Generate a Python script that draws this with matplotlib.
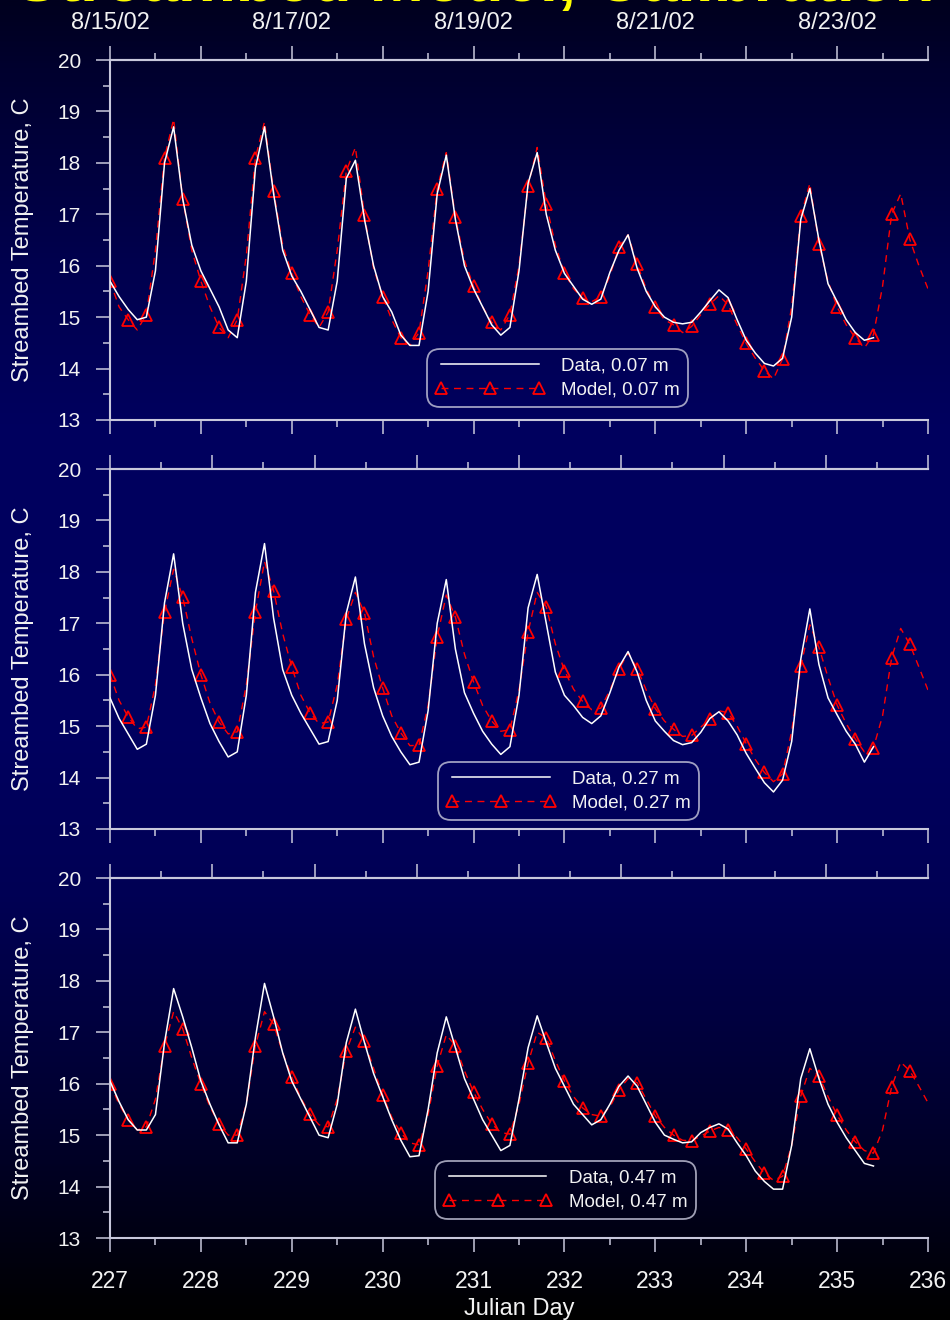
import numpy as np
import matplotlib
matplotlib.use("Agg")
import matplotlib.pyplot as plt
from matplotlib.colors import LinearSegmentedColormap
from matplotlib.lines import Line2D
from matplotlib.ticker import MultipleLocator, FixedLocator, FuncFormatter, NullFormatter

plt.rcParams['font.family'] = ['Liberation Sans', 'DejaVu Sans']

# ---------------------------------------------------------------- data
title = "Streambed Model, Calibration"
depths = ["0.07 m", "0.27 m", "0.47 m"]

day_start = 227.0
data_step = 0.1      # measured series, days
model_step = 0.1     # simulated series, days

date_days = [227, 229, 231, 233, 235]
date_labels = ["8/15/02", "8/17/02", "8/19/02", "8/21/02", "8/23/02"]

data_007 = [
    15.7, 15.4, 15.15, 14.95, 15.0, 15.9, 18.0, 18.7, 17.3, 16.4,
    15.9, 15.55, 15.2, 14.75, 14.6, 15.7, 17.9, 18.7, 17.4, 16.3,
    15.8, 15.5, 15.15, 14.8, 14.75, 15.7, 17.7, 18.05, 16.9, 16.0,
    15.4, 15.1, 14.65, 14.45, 14.45, 15.5, 17.4, 18.15, 16.9, 16.0,
    15.55, 15.2, 14.85, 14.65, 14.8, 15.9, 17.6, 18.2, 17.0, 16.3,
    15.85, 15.6, 15.35, 15.25, 15.35, 15.87, 16.3, 16.6, 15.95, 15.5,
    15.2, 15.0, 14.9, 14.87, 14.9, 15.1, 15.32, 15.53, 15.38, 14.95,
    14.55, 14.3, 14.1, 14.05, 14.2, 15.0, 16.9, 17.5, 16.5, 15.65,
    15.3, 14.95, 14.7, 14.55, 14.6,
]
model_007 = [
    15.7, 15.2, 14.95, 14.75, 15.05, 16.3, 18.1, 18.85, 17.3, 16.3,
    15.7, 15.2, 14.8, 14.6, 14.95, 16.2, 18.1, 18.8, 17.45, 16.4,
    15.85, 15.4, 15.05, 14.8, 15.1, 16.3, 17.84, 18.3, 16.98, 15.95,
    15.4, 14.95, 14.6, 14.45, 14.7, 15.9, 17.5, 18.2, 16.95, 16.1,
    15.6, 15.2, 14.9, 14.75, 15.05, 16.0, 17.55, 18.3, 17.2, 16.4,
    15.86, 15.55, 15.37, 15.3, 15.4, 15.8, 16.37, 16.6, 16.03, 15.55,
    15.19, 14.95, 14.85, 14.7, 14.82, 15.05, 15.25, 15.42, 15.24, 14.85,
    14.49, 14.2, 13.96, 13.8, 14.19, 15.2, 16.96, 17.6, 16.42, 15.7,
    15.2, 14.85, 14.6, 14.4, 14.66, 15.6, 17.0, 17.4, 16.51, 16.0,
    15.55,
]

data_027 = [
    15.55, 15.15, 14.85, 14.55, 14.65, 15.6, 17.4, 18.35, 17.0, 16.1,
    15.55, 15.05, 14.7, 14.4, 14.5, 15.6, 17.6, 18.55, 17.1, 16.1,
    15.6, 15.25, 14.95, 14.65, 14.7, 15.5, 17.2, 17.9, 16.6, 15.75,
    15.2, 14.8, 14.5, 14.25, 14.3, 15.3, 17.0, 17.85, 16.5, 15.65,
    15.25, 14.9, 14.65, 14.45, 14.6, 15.6, 17.3, 17.95, 17.0, 16.05,
    15.6, 15.4, 15.17, 15.05, 15.2, 15.65, 16.15, 16.45, 16.05, 15.5,
    15.1, 14.9, 14.72, 14.64, 14.68, 14.88, 15.15, 15.28, 15.1, 14.83,
    14.47, 14.18, 13.9, 13.72, 13.95, 14.7, 16.3, 17.28, 16.2, 15.55,
    15.22, 14.9, 14.65, 14.3, 14.6,
]
model_027 = [
    16.0, 15.5, 15.18, 14.95, 14.98, 15.8, 17.22, 18.05, 17.51, 16.7,
    16.0, 15.45, 15.08, 14.85, 14.89, 15.8, 17.22, 18.2, 17.63, 16.8,
    16.15, 15.6, 15.26, 15.05, 15.08, 15.8, 17.08, 17.6, 17.2, 16.35,
    15.74, 15.2, 14.87, 14.62, 14.63, 15.4, 16.74, 17.55, 17.12, 16.4,
    15.86, 15.4, 15.1, 14.9, 14.93, 15.7, 16.83, 17.6, 17.32, 16.6,
    16.08, 15.72, 15.48, 15.32, 15.35, 15.7, 16.11, 16.42, 16.12, 15.7,
    15.34, 15.1, 14.94, 14.8, 14.82, 14.98, 15.14, 15.3, 15.26, 15.0,
    14.66, 14.35, 14.1, 13.92, 14.07, 14.9, 16.16, 16.97, 16.53, 15.95,
    15.41, 15.05, 14.75, 14.5, 14.58, 15.2, 16.33, 16.9, 16.59, 16.15,
    15.7,
]

data_047 = [
    16.05, 15.65, 15.3, 15.1, 15.1, 15.4, 16.8, 17.85, 17.3, 16.7,
    16.05, 15.6, 15.2, 14.85, 14.85, 15.6, 16.9, 17.95, 17.3, 16.6,
    16.05, 15.7, 15.35, 15.0, 14.95, 15.6, 16.8, 17.45, 16.8, 16.2,
    15.75, 15.3, 14.9, 14.58, 14.6, 15.5, 16.6, 17.3, 16.7, 16.1,
    15.7, 15.3, 15.0, 14.7, 14.8, 15.7, 16.7, 17.32, 16.8, 16.3,
    15.95, 15.6, 15.4, 15.2, 15.3, 15.6, 15.95, 16.15, 15.95, 15.6,
    15.25, 15.0, 14.92, 14.85, 14.87, 15.05, 15.15, 15.22, 15.12, 14.85,
    14.6, 14.3, 14.1, 13.95, 13.95, 14.8, 16.1, 16.68, 16.1, 15.6,
    15.25, 14.95, 14.7, 14.45, 14.4,
]
model_047 = [
    16.0, 15.6, 15.3, 15.1, 15.16, 15.7, 16.74, 17.4, 17.07, 16.5,
    16.0, 15.55, 15.22, 15.0, 15.0, 15.6, 16.74, 17.4, 17.16, 16.6,
    16.13, 15.72, 15.41, 15.2, 15.16, 15.7, 16.64, 17.1, 16.83, 16.3,
    15.78, 15.35, 15.04, 14.85, 14.81, 15.4, 16.35, 16.95, 16.74, 16.25,
    15.84, 15.5, 15.22, 15.05, 15.02, 15.6, 16.4, 17.0, 16.89, 16.45,
    16.05, 15.75, 15.53, 15.4, 15.37, 15.55, 15.88, 16.1, 16.02, 15.7,
    15.37, 15.15, 15.0, 14.9, 14.89, 14.98, 15.08, 15.15, 15.1, 14.95,
    14.73, 14.48, 14.26, 14.12, 14.2, 14.8, 15.76, 16.3, 16.15, 15.75,
    15.39, 15.1, 14.87, 14.7, 14.65, 15.1, 15.94, 16.42, 16.25, 15.95,
    15.63,
]

series = [(data_007, model_007), (data_027, model_027), (data_047, model_047)]

# ---------------------------------------------------------------- style
W, H, DPI = 950, 1320, 100
axis_col = "#c8c8dc"
text_col = "#f2f2f2"
data_col = "#ffffff"
model_col = "#ff0000"
dash = (0, (5, 4))

fig = plt.figure(figsize=(W / DPI, H / DPI), dpi=DPI)

# vertical backdrop: dark navy at top, brighter navy in the middle, black at the bottom
bg = fig.add_axes([0, 0, 1, 1], zorder=-10)
bg.axis("off")
stops = [(0.0, "#00001e"), (0.05, "#00002e"), (0.2, "#00004e"),
         (0.32, "#00005e"), (0.55, "#000060"), (0.68, "#000054"),
         (0.85, "#00002e"), (1.0, "#000000")]
cmap = LinearSegmentedColormap.from_list("backdrop", stops)
bg.imshow(np.linspace(0, 1, 512).reshape(-1, 1), aspect="auto", cmap=cmap,
          extent=[0, 1, 0, 1], origin="upper")
bg.set_xlim(0, 1)
bg.set_ylim(0, 1)

# banner title, mostly above the top edge of the page
fig.text(0.5, 1 - 1 / H, title, color="#ffff00", fontsize=47, fontweight="bold",
         ha="center", va="baseline")

left = 110 / W
width = 818 / W
panel_tops = [60, 469, 878]
panel_h = 360
legend_anchor = [(0.3875, 0.036), (0.401, 0.025), (0.397, 0.053)]

for i, ((dvals, mvals), depth) in enumerate(zip(series, depths)):
    top_px = panel_tops[i]
    ax = fig.add_axes([left, 1 - (top_px + panel_h) / H, width, panel_h / H])
    ax.set_facecolor("none")

    d_days = day_start + data_step * np.arange(len(dvals))
    m_days = day_start + model_step * np.arange(len(mvals))

    ax.plot(m_days, mvals, color=model_col, lw=1.0, ls=dash, marker="^",
            mfc="none", mec=model_col, ms=8, mew=1.3,
            markevery=slice(0, len(mvals) - 1, 2), zorder=2)
    ax.plot(d_days, dvals, color=data_col, lw=1.1, zorder=3)

    ax.set_xlim(227, 236)
    ax.set_ylim(13, 20)

    for side in ("left", "top", "bottom"):
        ax.spines[side].set_color(axis_col)
        ax.spines[side].set_linewidth(1.5)
    ax.spines["right"].set_visible(False)

    ax.xaxis.set_major_locator(MultipleLocator(1))
    ax.xaxis.set_minor_locator(MultipleLocator(0.5))
    ax.yaxis.set_major_locator(MultipleLocator(1))
    ax.yaxis.set_minor_locator(MultipleLocator(0.5))
    ax.tick_params(which="major", direction="out", length=10, width=1.1,
                   color=axis_col, labelcolor=text_col)
    ax.tick_params(which="minor", direction="out", length=5, width=1.1,
                   color=axis_col)
    ax.tick_params(axis="y", labelsize=15, pad=11)
    ax.tick_params(axis="x", labelsize=16.5, pad=13)
    ax.tick_params(top=False, right=False, which="both")

    ax.set_ylabel("Streambed Temperature, C", color=text_col, fontsize=17,
                  labelpad=17)

    sec = ax.secondary_xaxis("top")
    sec.spines["top"].set_color(axis_col)
    sec.spines["top"].set_linewidth(1.5)
    if i == 0:
        sec.xaxis.set_major_locator(MultipleLocator(1))
        sec.xaxis.set_minor_locator(MultipleLocator(0.5))
        lookup = dict(zip(date_days, date_labels))
        sec.xaxis.set_major_formatter(
            FuncFormatter(lambda v, pos: lookup.get(int(round(v)), "")))
    else:
        n_div = 8
        span = 236 - 227
        sec.xaxis.set_major_locator(
            FixedLocator(227 + span * np.arange(n_div + 1) / n_div))
        sec.xaxis.set_minor_locator(
            FixedLocator(227 + span * (np.arange(n_div) + 0.5) / n_div))
        sec.xaxis.set_major_formatter(NullFormatter())
    sec.tick_params(which="major", direction="out", length=10, width=1.1,
                    color=axis_col, labelcolor=text_col, labelsize=17, pad=9)
    sec.tick_params(which="minor", direction="out", length=5, width=1.1,
                    color=axis_col)

    if i < 2:
        ax.tick_params(axis="x", labelbottom=False)
    else:
        ax.set_xlabel("Julian Day", color=text_col, fontsize=17, labelpad=4)

    h_data = Line2D([], [], color=data_col, lw=1.1)
    h_model = Line2D([], [], color=model_col, lw=1.0, ls=dash, marker="^",
                     mfc="none", mec=model_col, ms=8, mew=1.3)
    leg = ax.legend([h_data, h_model], [f"Data, {depth}", f"Model, {depth}"],
                    loc="lower left", bbox_to_anchor=legend_anchor[i],
                    borderaxespad=0, fontsize=13.5, handlelength=5.8,
                    numpoints=3, handletextpad=0.9, borderpad=0.45,
                    labelspacing=0.35, frameon=True, fancybox=True)
    frame = leg.get_frame()
    frame.set_facecolor("none")
    frame.set_edgecolor(axis_col)
    frame.set_linewidth(1.3)
    frame.set_boxstyle("round,pad=0,rounding_size=0.7")
    for t in leg.get_texts():
        t.set_color(text_col)

fig.savefig("out.png", dpi=DPI)
